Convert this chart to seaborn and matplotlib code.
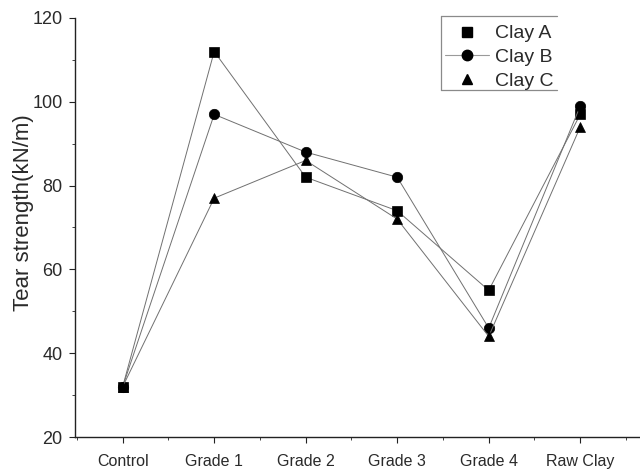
import matplotlib
matplotlib.use("Agg")
import matplotlib.pyplot as plt
from matplotlib.lines import Line2D
from matplotlib.ticker import MultipleLocator, FixedLocator
import seaborn as sns
import pandas as pd

categories = ["Control", "Grade 1", "Grade 2", "Grade 3", "Grade 4", "Raw Clay"]
clay_a = [32, 112, 82, 74, 55, 97]
clay_b = [32, 97, 88, 82, 46, 99]
clay_c = [32, 77, 86, 72, 44, 94]
series_names = ["Clay A", "Clay B", "Clay C"]
series_markers = ["s", "o", "^"]

rows = []
for name, vals in zip(series_names, [clay_a, clay_b, clay_c]):
    for i, (cat, v) in enumerate(zip(categories, vals)):
        rows.append({"pos": i, "grade": cat, "clay": name, "strength": v})
df = pd.DataFrame(rows)

sns.set_style("white")
plt.rcParams["font.family"] = ["Liberation Sans", "DejaVu Sans"]

TXT = "#2a2a2a"
W, H = 640, 469

fig = plt.figure(figsize=(6.4, 4.69), dpi=100)
ax = fig.add_axes([75 / W, 1 - 437 / H, 1 - 75 / W, (437 - 18) / H])

sizes = {"Clay A": 6.8, "Clay B": 7.5, "Clay C": 7.5}
for name, mk in zip(series_names, series_markers):
    sub = df[df["clay"] == name]
    sns.lineplot(data=sub, x="pos", y="strength", ax=ax, color="#707070",
                 linewidth=0.7, marker=mk, markersize=sizes[name],
                 markerfacecolor="black", markeredgecolor="black",
                 markeredgewidth=0.5, legend=False)

ax.set_xlim(-0.521, 5.653)
ax.set_ylim(20, 120)
ax.xaxis.set_major_locator(FixedLocator(range(len(categories))))
ax.set_xticklabels(categories)
ax.xaxis.set_minor_locator(FixedLocator([i + 0.5 for i in range(-1, len(categories))]))
ax.yaxis.set_major_locator(MultipleLocator(20))
ax.yaxis.set_minor_locator(MultipleLocator(10))

ax.set_xlabel("")
ax.set_ylabel("Tear strength(kN/m)", fontsize=16, color=TXT)
ax.yaxis.set_label_coords(-0.072, 0.535)

for side in ["top", "right"]:
    ax.spines[side].set_visible(False)
for side in ["left", "bottom"]:
    ax.spines[side].set_color("#222222")
    ax.spines[side].set_linewidth(1.0)

ax.tick_params(axis="both", which="major", direction="out", length=4, width=0.8,
               colors="#222222", left=True, bottom=True)
ax.tick_params(axis="both", which="minor", direction="out", length=2.5, width=0.6,
               colors="#222222", left=True, bottom=True)
ax.tick_params(axis="x", which="major", pad=8, labelsize=11.5, labelcolor=TXT)
ax.tick_params(axis="y", which="major", pad=5, labelsize=13, labelcolor=TXT)

handles = [
    Line2D([], [], linestyle="none", marker="s", color="black", markersize=6.5),
    Line2D([], [], color="#9a9a9a", linewidth=0.8, marker="o",
           markerfacecolor="black", markeredgecolor="black", markersize=7.5),
    Line2D([], [], linestyle="none", marker="^", color="black", markersize=7.5),
]
leg = fig.legend(handles, series_names, loc="upper left",
                 bbox_to_anchor=(436 / W, 1 - 16 / H), borderaxespad=0,
                 fontsize=14, frameon=False, handlelength=2.3,
                 labelspacing=0.32, borderpad=0.45, handletextpad=0.3)
for t in leg.get_texts():
    t.set_color(TXT)

# open-sided legend frame (top, left, bottom)
frame_kw = dict(color="#8a8a8a", linewidth=0.9, transform=fig.transFigure)
x0, x1, y0, y1 = 441 / W, 557 / W, 1 - 16 / H, 1 - 90 / H
fig.add_artist(Line2D([x0, x1], [y0, y0], **frame_kw))
fig.add_artist(Line2D([x0, x0], [y0, y1], **frame_kw))
fig.add_artist(Line2D([x0, x1], [y1, y1], **frame_kw))

fig.savefig("out.png", dpi=100)
